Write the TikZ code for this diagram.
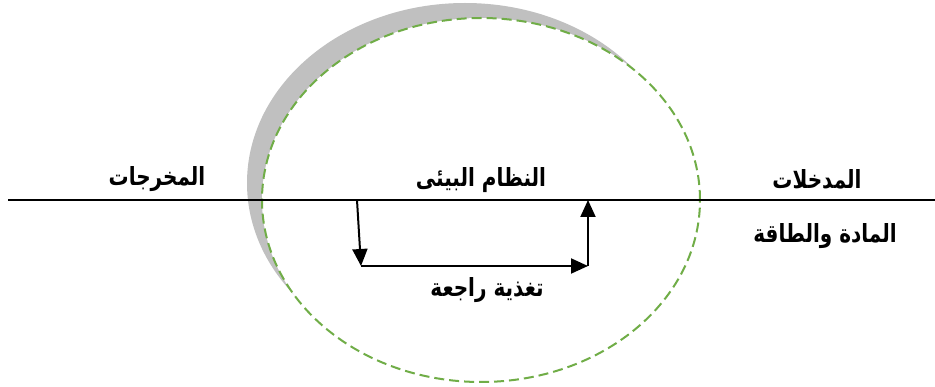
\documentclass[tikz,border=0pt]{standalone}
\usepackage{fontspec}
\usepackage{graphicx}
\usetikzlibrary{arrows.meta}
\newfontfamily\arabicfont[Script=Arabic]{DejaVu Sans}
\TeXXeTstate=1
\definecolor{dgreen}{RGB}{112,173,71}
\definecolor{shadegray}{RGB}{192,192,192}
\newcommand{\artxt}[1]{\scalebox{1}[1.25]{\beginR #1\endR}}
\begin{document}
\begin{tikzpicture}[x=1pt,y=-1pt,
  lbl/.style={font=\arabicfont\bfseries\fontsize{20}{24}\selectfont, inner sep=0pt},
  fb/.style={line width=2pt, -{Triangle[length=17pt,width=15pt]}}]
\useasboundingbox (0,0) rectangle (935,387);
\fill[shadegray] (465,183) ellipse [x radius=218pt, y radius=180pt];
\draw[dgreen, line width=2pt, dash pattern=on 10pt off 5pt, fill=white] (481,200) ellipse [x radius=219pt, y radius=182pt];
\coordinate (ls) at (8,200);
\coordinate (le) at (935,200);
\draw[line width=1.5pt] (ls) -- (le);
\coordinate (p1) at (357,200);
\coordinate (p2) at (361,266);
\coordinate (p3) at (588,266);
\coordinate (p4) at (588,200);
\draw[fb] (p1) -- (p2);
\draw[fb] (p2) -- (p3);
\draw[fb] (p3) -- (p4);
\node[lbl] (sys) at (481,180) {\artxt{النظام البيئى}};
\node[lbl] (fbk) at (487,290) {\artxt{تغذية راجعة}};
\node[lbl] (out) at (157,179) {\artxt{المخرجات}};
\node[lbl] (in) at (817,179) {\artxt{المدخلات}};
\node[lbl] (me) at (825,236) {\artxt{المادة والطاقة}};
\end{tikzpicture}
\end{document}
